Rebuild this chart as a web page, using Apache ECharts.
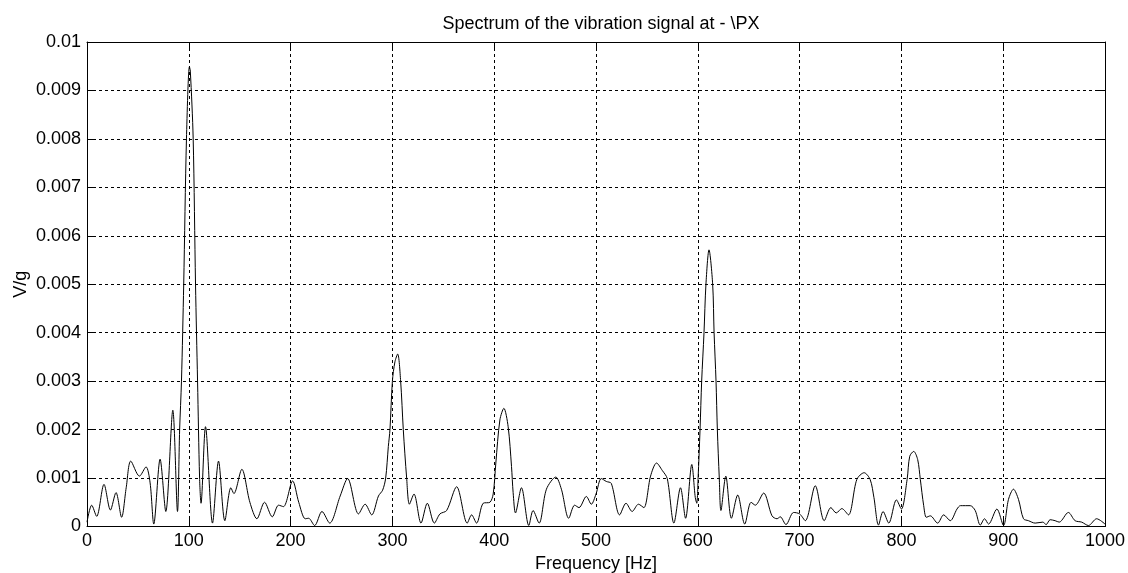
<!DOCTYPE html>
<html>
<head>
<meta charset="utf-8">
<script src="https://cdn.jsdelivr.net/npm/echarts@6/dist/echarts.min.js"></script>
<style>
html, body { margin: 0; padding: 0; background: #fff; }
#chart { width: 1128px; height: 573px; }
</style>
</head>
<body>
<div id="chart"></div>
<script>
// frequency (Hz) and amplitude (V/g)
var freqs = [
	0, 4.6, 9.5, 16.7, 23, 28.5, 34, 38.5, 43, 51.5, 58, 62, 65.6, 71.8, 77.4, 84.3, 88.9,
	91, 92.8, 95, 97.7, 100.6, 101.5, 104.3, 106.6, 108.6, 110.6, 112, 116.4, 123.3, 129.2,
	135.4, 141.3, 144.3, 152.1, 160, 166.9, 174.4, 182, 188.2, 193, 202, 208, 214.4, 217.7,
	223.6, 230.8, 238.4, 248.7, 256, 266.7, 273.2, 279.7, 286.3, 290.4, 293.4, 296, 297.6,
	300, 302.5, 305.2, 308.1, 310.7, 314, 316.7, 321.2, 328.1, 334.3, 341.2, 346.7, 353.3,
	363.1, 373.5, 377.8, 382.7, 389.2, 395.8, 399, 401.6, 405.6, 409.5, 413.7, 417, 418.6,
	420.9, 426.8, 434, 438.2, 444.1, 451.3, 460.5, 466, 473.2, 479, 483.3, 490.5, 495.4,
	500, 505.2, 510.1, 515, 523.2, 529.5, 535.5, 541.7, 547, 553.6, 559.5, 565, 570, 576.5,
	583, 588, 594.1, 597.5, 599, 600.3, 602.2, 603.8, 606.1, 608, 611, 614.6, 616, 617.9,
	619.2, 621.1, 622.7, 627.5, 633, 639.2, 646.1, 652.3, 656.5, 664.7, 672.9, 677.8, 681,
	686.6, 694.1, 700, 705.6, 715.4, 724.2, 730.7, 736, 741.5, 748, 756.2, 763.4, 769.3,
	773, 777.5, 782, 787.6, 795.1, 800, 805.6, 808.2, 812.1, 816, 818.6, 821.9, 824.5,
	828.4, 835.6, 841.5, 848, 854.6, 858, 867.6, 872.5, 877.5, 881.7, 885.6, 893.8, 900.3,
	905.2, 910.1, 915, 919.9, 924.8, 931.4, 938.9, 942.2, 946.1, 951, 955, 964, 970.6,
	977.1, 983.7, 991.8, 1000
];
var amps = [
	0.00009, 0.00044, 0.00021, 0.00087, 0.00034, 0.00070, 0.00019, 0.00080, 0.00135, 0.00104, 0.00123, 0.00090, 0.00005, 0.00139, 0.00031, 0.00240, 0.00031,
	0.00200, 0.00300, 0.00500, 0.00800, 0.00949, 0.00940, 0.00800, 0.00500, 0.00300, 0.00100, 0.00048, 0.00206, 0.00007, 0.00135,
	0.00012, 0.00080, 0.00068, 0.00118, 0.00050, 0.00016, 0.00050, 0.00020, 0.00044, 0.00041, 0.00094, 0.00050, 0.00016, 0.00017,
	0.00002, 0.00031, 0.00007, 0.00063, 0.00099, 0.00026, 0.00046, 0.00024, 0.00063, 0.00075, 0.00100, 0.00165, 0.00200,
	0.00300, 0.00340, 0.00356, 0.00300, 0.00200, 0.00100, 0.00046, 0.00067, 0.00007, 0.00048, 0.00007, 0.00026, 0.00033,
	0.00082, 0.00007, 0.00024, 0.00007, 0.00048, 0.00050, 0.00067, 0.00131, 0.00220, 0.00244, 0.00206, 0.00124, 0.00070,
	0.00028, 0.00080, 0.00002, 0.00033, 0.00007, 0.00077, 0.00102, 0.00077, 0.00017, 0.00044, 0.00039, 0.00062, 0.00046,
	0.00067, 0.00099, 0.00093, 0.00089, 0.00024, 0.00048, 0.00031, 0.00046, 0.00039, 0.00104, 0.00131, 0.00116, 0.00099, 0.00007,
	0.00080, 0.00017, 0.00128, 0.00060, 0.00048, 0.00100, 0.00200, 0.00300, 0.00400, 0.00500, 0.00571, 0.00500, 0.00400, 0.00300,
	0.00200, 0.00100, 0.00033, 0.00104, 0.00017, 0.00065, 0.00005, 0.00050, 0.00044, 0.00069, 0.00022, 0.00016, 0.00020,
	0.00004, 0.00029, 0.00026, 0.00012, 0.00084, 0.00012, 0.00039, 0.00028, 0.00037, 0.00024, 0.00097, 0.00111, 0.00097,
	0.00060, 0.00003, 0.00031, 0.00007, 0.00055, 0.00036, 0.00097, 0.00145, 0.00155, 0.00138, 0.00097, 0.00043, 0.00019,
	0.00022, 0.00007, 0.00024, 0.00012, 0.00036, 0.00043, 0.00043, 0.00033, 0.00003, 0.00016, 0.00005, 0.00036, 0.00002,
	0.00056, 0.00077, 0.00056, 0.00016, 0.00012, 0.00007, 0.00009, 0.00004, 0.00014, 0.00012, 0.00009, 0.00029, 0.00012,
	0.00009, 0.00002, 0.00016, 0.00005
];
var xTicks = ['0', '100', '200', '300', '400', '500', '600', '700', '800', '900', '1000'];
var yTicks = ['0', '0.001', '0.002', '0.003', '0.004', '0.005', '0.006', '0.007', '0.008', '0.009', '0.01'];

var chart = echarts.init(document.getElementById('chart'));

var font = 'Arial, "Liberation Sans", sans-serif';
var gridDash = { show: true, lineStyle: { color: '#000', width: 1, type: [3, 3] } };
var frame = { show: true, onZero: false, lineStyle: { color: '#000', width: 1 } };
var tickIn = { show: true, inside: true, length: 8, lineStyle: { color: '#000' } };

var option = {
	backgroundColor: '#fff',
	animation: false,
	title: {
		text: 'Spectrum of the vibration signal at - \\PX',
		left: 596,
		top: 10,
		textAlign: 'center',
		textStyle: { fontFamily: font, fontSize: 18, fontWeight: 'normal', color: '#000' }
	},
	grid: { left: 87, right: 23, top: 42, bottom: 46.5, outerBoundsMode: 'none', containLabel: false },
	xAxis: [{
		type: 'value',
		position: 'bottom',
		min: 0,
		max: 1000,
		interval: 100,
		name: 'Frequency [Hz]',
		nameLocation: 'middle',
		nameGap: 26,
		nameTextStyle: { fontFamily: font, fontSize: 18, color: '#000' },
		axisLine: frame,
		axisTick: tickIn,
		axisLabel: {
			fontFamily: font, fontSize: 18, color: '#000', margin: 6,
			formatter: function(v) { return xTicks[Math.round(v / 100)]; }
		},
		splitLine: gridDash
	}, {
		type: 'value',
		position: 'top',
		min: 0,
		max: 1000,
		interval: 100,
		axisLine: frame,
		axisTick: tickIn,
		axisLabel: { show: false },
		splitLine: { show: false }
	}],
	yAxis: [{
		type: 'value',
		position: 'left',
		min: 0,
		max: 0.01,
		interval: 0.001,
		name: 'V/g',
		nameLocation: 'middle',
		nameGap: 57,
		nameMoveOverlap: false,
		nameTextStyle: { fontFamily: font, fontSize: 18, color: '#000' },
		axisLine: frame,
		axisTick: tickIn,
		axisLabel: {
			fontFamily: font, fontSize: 18, color: '#000', margin: 6,
			formatter: function(v) { return yTicks[Math.round(v / 0.001)]; }
		},
		splitLine: gridDash
	}, {
		type: 'value',
		position: 'right',
		min: 0,
		max: 0.01,
		interval: 0.001,
		axisLine: frame,
		axisTick: tickIn,
		axisLabel: { show: false },
		splitLine: { show: false }
	}],
	series: [{
		type: 'line',
		xAxisIndex: 0,
		yAxisIndex: 0,
		data: freqs.map(function(f, i) { return [f, amps[i]]; }),
		showSymbol: false,
		smooth: 0.3,
		lineStyle: { color: '#000', width: 1 }
	}]
};
chart.setOption(option);
</script>
</body>
</html>
